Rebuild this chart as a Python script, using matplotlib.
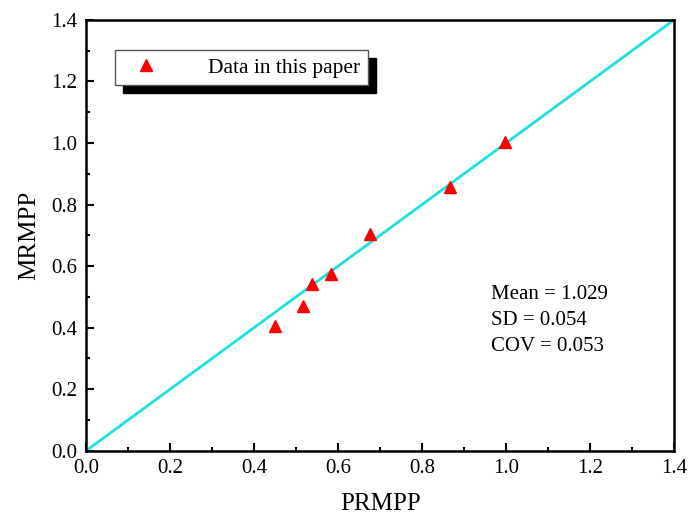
import matplotlib.pyplot as plt
from matplotlib.ticker import MultipleLocator

plt.rcParams['font.family'] = ['Liberation Serif', 'DejaVu Serif']

prmpp = [0.449, 0.517, 0.539, 0.584, 0.675, 0.866, 0.998]
mrmpp = [0.405, 0.470, 0.543, 0.573, 0.705, 0.858, 1.002]
line_x = [0.0, 1.4]
stats = ['Mean = 1.029', 'SD = 0.054', 'COV = 0.053']

fig = plt.figure(figsize=(6.88, 5.2), dpi=100)
ax = fig.add_axes([0.125, 0.133, 0.855, 0.829])

ax.plot(line_x, line_x, color='#1de0e0', lw=2, zorder=2)
ax.plot(prmpp, mrmpp, '^', color='#ff0000', ms=8, ls='none',
        label='Data in this paper', zorder=3)

ax.set_xlim(0, 1.4)
ax.set_ylim(0, 1.4)
ax.xaxis.set_major_locator(MultipleLocator(0.2))
ax.yaxis.set_major_locator(MultipleLocator(0.2))
ax.xaxis.set_minor_locator(MultipleLocator(0.1))
ax.yaxis.set_minor_locator(MultipleLocator(0.1))
ax.xaxis.set_major_formatter(lambda v, p: f'{v:.1f}')
ax.yaxis.set_major_formatter(lambda v, p: f'{v:.1f}')
ax.tick_params(which='both', direction='in', width=1.5)
ax.tick_params(which='major', length=6, labelsize=15, pad=6)
ax.tick_params(which='minor', length=3)
for s in ax.spines.values():
    s.set_linewidth(1.8)

ax.set_xlabel('PRMPP', fontsize=18, labelpad=11)
ax.set_ylabel('MRMPP', fontsize=18, labelpad=8)

leg = ax.legend(loc='upper left', bbox_to_anchor=(0.049, 0.93), fontsize=15.5,
                fancybox=False, edgecolor='#555555', framealpha=1,
                shadow={'color': 'black', 'alpha': 1, 'ox': 6, 'oy': -6},
                borderpad=0.35, handletextpad=1.8, borderaxespad=0,
                handlelength=2.2)
leg.get_frame().set_linewidth(1)

for i, t in enumerate(stats):
    ax.text(0.688, 0.362 - i * 0.0595, t, transform=ax.transAxes, fontsize=15,
            va='center', ha='left')

fig.savefig('out.png', dpi=100, facecolor='white')
